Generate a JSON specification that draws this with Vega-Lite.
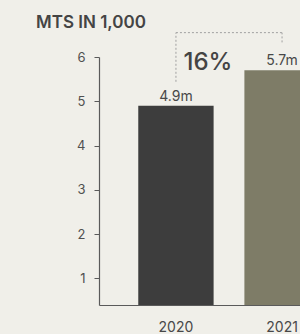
{
  "$schema": "https://vega.github.io/schema/vega-lite/v6.json",
  "width": 201,
  "height": 248,
  "autosize": {"type": "none"},
  "padding": {"left": 99, "top": 57, "right": 0, "bottom": 29},
  "background": "#f0efe9",
  "config": {
    "view": {"stroke": null},
    "font": "Inter"
  },
  "title": {
    "text": "MTS IN 1,000",
    "anchor": "start",
    "frame": "group",
    "dx": -63,
    "dy": 24,
    "fontSize": 17,
    "fontWeight": 600,
    "color": "#444444",
    "offset": 24
  },
  "datasets": {
    "bars": [
      {"year": "2020", "value": 4.9, "label": "4.9m"},
      {"year": "2021", "value": 5.7, "label": "5.7m"}
    ],
    "vlines": [
      {"year": "2020", "y": 5.44, "y2": 6.55},
      {"year": "2021", "y": 6.33, "y2": 6.55}
    ],
    "hline": [
      {"from": "2020", "to": "2021", "y": 6.55}
    ],
    "pct": [
      {"year": "2020", "y": 5.7, "text": "16%"}
    ]
  },
  "layer": [
    {
      "data": {"name": "bars"},
      "mark": {"type": "bar", "clip": false},
      "encoding": {
        "x": {
          "field": "year", "type": "nominal",
          "scale": {"domain": ["2020", "2021"], "range": [0, 260], "paddingInner": 0.29, "paddingOuter": 0.37},
          "axis": {
            "title": null, "labelAngle": 0, "ticks": false, "labelPadding": 15,
            "labelFontSize": 14, "labelColor": "#484848", "domainColor": "#5a5a5a", "domainWidth": 1.2
          }
        },
        "y": {
          "field": "value", "type": "quantitative",
          "scale": {"domain": [0.4, 6], "nice": false, "zero": false},
          "axis": {
            "title": null, "values": [1, 2, 3, 4, 5, 6], "grid": false, "tickSize": 5,
            "labelPadding": 9, "labelFontSize": 13, "labelColor": "#505050",
            "tickColor": "#5a5a5a", "domainColor": "#5a5a5a", "domainWidth": 1.2
          }
        },
        "y2": {"datum": 0.4},
        "color": {
          "field": "year", "type": "nominal",
          "scale": {"domain": ["2020", "2021"], "range": ["#3d3d3d", "#7e7c67"]},
          "legend": null
        }
      }
    },
    {
      "data": {"name": "bars"},
      "mark": {"type": "text", "baseline": "alphabetic", "dy": -5, "fontSize": 14, "color": "#484848"},
      "encoding": {
        "x": {"field": "year", "type": "nominal"},
        "y": {"field": "value", "type": "quantitative"},
        "text": {"field": "label"}
      }
    },
    {
      "data": {"name": "vlines"},
      "mark": {"type": "rule", "strokeDash": [2, 2], "color": "#a0a0a0", "strokeWidth": 1},
      "encoding": {
        "x": {"field": "year", "type": "nominal"},
        "y": {"field": "y", "type": "quantitative"},
        "y2": {"field": "y2"}
      }
    },
    {
      "data": {"name": "hline"},
      "mark": {"type": "rule", "strokeDash": [2, 2], "color": "#a0a0a0", "strokeWidth": 1},
      "encoding": {
        "x": {"field": "from", "type": "nominal", "bandPosition": 0.5},
        "x2": {"field": "to", "bandPosition": 0.5},
        "y": {"field": "y", "type": "quantitative"}
      }
    },
    {
      "data": {"name": "pct"},
      "mark": {"type": "text", "baseline": "alphabetic", "dx": 32, "fontSize": 24, "fontWeight": 500, "color": "#444444"},
      "encoding": {
        "x": {"field": "year", "type": "nominal"},
        "y": {"field": "y", "type": "quantitative"},
        "text": {"field": "text"}
      }
    }
  ]
}
